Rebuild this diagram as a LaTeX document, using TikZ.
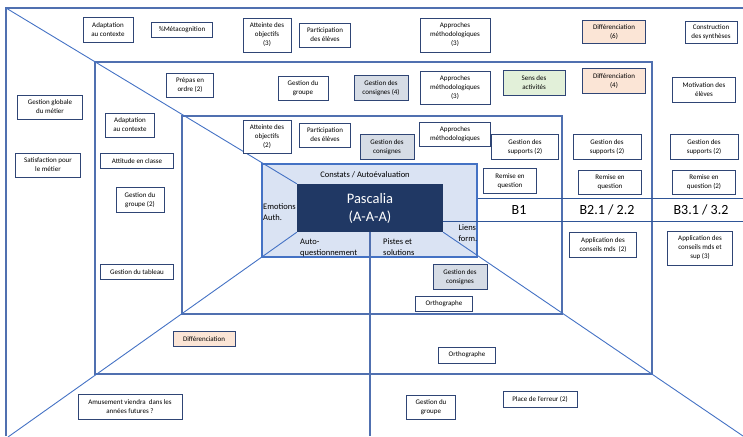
\documentclass[tikz,border=0pt]{standalone}
\usepackage{fontspec}
\setmainfont{Carlito}
\definecolor{cardline}{HTML}{2F4575}
\definecolor{frameblue}{HTML}{5070B0}
\definecolor{diagblue}{HTML}{4472C4}
\definecolor{rowblue}{HTML}{2F5597}
\definecolor{ringfill}{HTML}{DAE3F3}
\definecolor{corefill}{HTML}{203864}
\definecolor{grayfill}{HTML}{D6DCE5}
\definecolor{orangefill}{HTML}{FBE5D6}
\definecolor{greenfill}{HTML}{E2F0D9}
\begin{document}
\begin{tikzpicture}[x=1pt,y=-1pt,
  card/.style={draw=cardline, line width=0.9pt, fill=white, align=center,
    font=\fontsize{7}{9}\selectfont, inner sep=1pt},
  grey/.style={fill=grayfill},
  peach/.style={fill=orangefill},
  mint/.style={fill=greenfill},
  frame/.style={draw=frameblue, line width=1.1pt},
  diag/.style={draw=diagblue, line width=0.9pt},
  rowline/.style={draw=rowblue, line width=1pt},
  zone/.style={font=\fontsize{8.5}{11.5}\selectfont, inner sep=0pt},
  level/.style={font=\fontsize{14}{16}\selectfont, inner sep=0pt}]
\useasboundingbox (0,0) rectangle (743,436);

% nested frames
\draw[frame] (6,436) -- (6,8) -- (743,8);
\draw[frame] (95,62) rectangle (652,374);
\draw[frame] (182,116) rectangle (562,314);

% central zone
\node[draw=diagblue, line width=1.2pt, fill=ringfill, minimum width=215, minimum height=93, inner sep=0pt] (ring) at (369.5,210.5) {};
\node[fill=corefill, minimum width=146, minimum height=48, inner sep=0pt, align=center,
  text=white, font=\fontsize{14.5}{18}\selectfont] (core) at (370,208) {Pascalia\\(A-A-A)};

% free ends of the rays
\coordinate (nwEnd) at (6,8);
\coordinate (swEnd) at (8,437);
\coordinate (seEnd) at (743,436);
\coordinate (sEnd) at (370,436);
\coordinate (rowTopEnd) at (743,198);
\coordinate (rowBotEnd) at (743,221);

\draw[diag] (core.north west) -- (nwEnd);
\draw[diag] (core.south west) -- (swEnd);
\draw[diag] (core.south east) -- (seEnd);
\draw[frame] (core.south) -- (sEnd);
\draw[rowline] (ring.east |- rowTopEnd) -- (rowTopEnd);
\draw[rowline] (core.east |- rowBotEnd) -- (rowBotEnd);

% labels around the core
\node[zone] (constats) at (365,175) {Constats / Autoévaluation};
\node[zone, anchor=west, align=left] (emotions) at (263,212) {Emotions\\Auth.};
\node[zone, anchor=east, align=left] (liens) at (477.5,233) {Liens\\form.};
\node[zone, anchor=north west, align=left] (autoq) at (300,238.5) {Auto-\\questionnement};
\node[zone, anchor=north west, align=left] (pistes) at (383,238) {Pistes et\\solutions};

% levels
\node[level] (b1) at (519,210) {B1};
\node[level] (b2) at (607,210) {B2.1 / 2.2};
\node[level] (b3) at (701,210) {B3.1 / 3.2};

% top band
\node[card, minimum width=50, minimum height=25] (topAdapt) at (108,30) {Adaptation\\au contexte};
\node[card, minimum width=61, minimum height=15] (topMeta) at (182,30) {\%Métacognition};
\node[card, minimum width=48, minimum height=34] (topAtteinte) at (267,35) {Atteinte des\\objectifs\\(3)};
\node[card, minimum width=51, minimum height=24] (topPartic) at (325,35) {Participation\\des élèves};
\node[card, minimum width=70, minimum height=34] (topApproches) at (455,35) {Approches\\méthodologiques\\(3)};
\node[card, peach, minimum width=63, minimum height=23] (topDiff) at (614,32) {Différenciation\\(6)};
\node[card, minimum width=52, minimum height=22] (topSynth) at (711,32) {Construction\\des synthèses};

% left band
\node[card, minimum width=65, minimum height=24] (gestGlobale) at (50,107) {Gestion globale\\du métier};
\node[card, minimum width=65, minimum height=24] (satisfaction) at (48,165) {Satisfaction pour\\le métier};

% middle frame
\node[card, minimum width=47, minimum height=24] (prepas) at (190,85) {Prépas en\\ordre (2)};
\node[card, minimum width=50, minimum height=24] (midGroupe) at (303,88) {Gestion du\\groupe};
\node[card, grey, minimum width=54, minimum height=25] (midConsignes) at (381,88) {Gestion des\\consignes (4)};
\node[card, minimum width=70, minimum height=33] (midApproches) at (455,88) {Approches\\méthodologiques\\(3)};
\node[card, mint, minimum width=62, minimum height=25] (sens) at (534,83) {Sens des\\activités};
\node[card, peach, minimum width=63, minimum height=25] (midDiff) at (614,81) {Différenciation\\(4)};
\node[card, minimum width=63, minimum height=25] (motivation) at (704,90) {Motivation des\\élèves};
\node[card, minimum width=49, minimum height=24] (midAdapt) at (130,125) {Adaptation\\au contexte};
\node[card, minimum width=73, minimum height=15] (attitude) at (137,161) {Attitude en classe};
\node[card, minimum width=48, minimum height=25] (midGroupe2) at (140,200) {Gestion du\\groupe (2)};
\node[card, minimum width=73, minimum height=15] (tableau) at (137,272) {Gestion du tableau};

% inner frame
\node[card, minimum width=48, minimum height=33] (inAtteinte) at (267,137) {Atteinte des\\objectifs\\(2)};
\node[card, minimum width=51, minimum height=24] (inPartic) at (325,135) {Participation\\des élèves};
\node[card, grey, minimum width=54, minimum height=25] (inConsignes) at (387,147) {Gestion des\\consignes};
\node[card, minimum width=71, minimum height=24] (inApproches) at (455,134) {Approches\\méthodologiques};

% supports and questioning per level
\node[card, minimum width=67, minimum height=25] (supB1) at (525,147) {Gestion des\\supports (2)};
\node[card, minimum width=68, minimum height=25] (supB2) at (607,147) {Gestion des\\supports (2)};
\node[card, minimum width=68, minimum height=25] (supB3) at (704,147) {Gestion des\\supports (2)};
\node[card, minimum width=53, minimum height=25] (remB1) at (510,181) {Remise en\\question};
\node[card, minimum width=63, minimum height=24] (remB2) at (610,182) {Remise en\\question};
\node[card, minimum width=63, minimum height=24] (remB3) at (704,182) {Remise en\\question (2)};
\node[card, minimum width=67, minimum height=25] (applB2) at (603,245) {Application des\\conseils mds~~(2)};
\node[card, minimum width=65, minimum height=34] (applB3) at (700,248) {Application des\\conseils mds et\\sup (3)};

% lower part
\node[card, grey, minimum width=54, minimum height=25] (lowConsignes) at (460,277) {Gestion des\\consignes};
\node[card, minimum width=57, minimum height=15] (ortho1) at (444,304) {Orthographe};
\node[card, peach, minimum width=62, minimum height=15] (lowDiff) at (204,339) {Différenciation};
\node[card, minimum width=57, minimum height=16] (ortho2) at (467,355) {Orthographe};
\node[card, minimum width=104, minimum height=25] (amusement) at (130,407) {Amusement viendra~~dans les\\années futures ?};
\node[card, minimum width=49, minimum height=24] (botGroupe) at (431,407) {Gestion du\\groupe};
\node[card, minimum width=74, minimum height=16] (erreur) at (540,399) {Place de l’erreur (2)};
\end{tikzpicture}
\end{document}
